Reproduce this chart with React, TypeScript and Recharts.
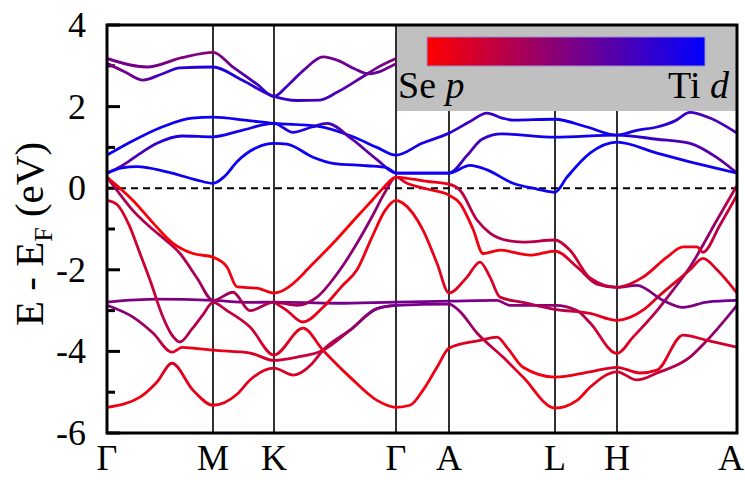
import React from "react";
import { LineChart, Line, XAxis, YAxis, ReferenceLine } from "recharts";

const W = 745;
const H = 480;
const PL = 107;
const PR = 737;
const PT = 25;
const PB = 433;
const KMAX = 630;
const SERIF = "Liberation Serif, Times New Roman, serif";
const serif = { fontFamily: SERIF };

const kTicks = [0, 106, 167, 289, 342, 448, 510, 630];
const kLabels = ["Γ", "M", "K", "Γ", "A", "L", "H", "A"];
const eTicks = [-6, -4, -2, 0, 2, 4];
const eMinor = [-5, -3, -1, 1, 3];

type Pt = [number, number, number]; // [k, E (eV), Ti d weight]

// upper conduction bands
const c1: Pt[] = [[0, 3.18, 0.55], [40, 2.97, 0.55], [75, 3.2, 0.5], [106, 3.33, 0.45], [126, 2.97, 0.6], [150, 2.55, 0.75], [167, 2.25, 0.8], [180, 2.5, 0.75], [197, 2.9, 0.65], [216, 3.22, 0.55], [232, 3.12, 0.55], [248, 2.92, 0.6], [262, 2.8, 0.6], [272, 2.85, 0.6], [281, 2.95, 0.55], [289, 3.05, 0.5]];
const c2: Pt[] = [[0, 3.06, 0.5], [18, 2.85, 0.55], [36, 2.65, 0.6], [55, 2.8, 0.75], [73, 2.95, 0.85], [106, 2.97, 0.88], [135, 2.65, 0.85], [167, 2.25, 0.8], [190, 2.15, 0.8], [213, 2.16, 0.75], [230, 2.35, 0.7], [255, 2.72, 0.62], [272, 2.98, 0.55], [289, 3.18, 0.5]];

// Ti d conduction bands
const b1: Pt[] = [[0, 0.81, 0.95], [25, 1.15, 0.95], [55, 1.5, 0.95], [85, 1.72, 0.95], [106, 1.74, 0.95], [140, 1.66, 0.95], [167, 1.59, 0.95], [210, 1.52, 0.95], [246, 1.26, 0.95], [270, 1.0, 0.95], [289, 0.81, 0.95], [315, 1.1, 0.9], [342, 1.35, 0.85], [362, 1.62, 0.75], [380, 1.84, 0.75], [395, 1.72, 0.85], [406, 1.67, 0.9], [448, 1.69, 0.95], [480, 1.5, 0.95], [510, 1.3, 0.95], [530, 1.42, 0.9], [550, 1.5, 0.85], [568, 1.65, 0.8], [583, 1.86, 0.75], [603, 1.72, 0.7], [630, 1.35, 0.7]];
const b2: Pt[] = [[0, 0.37, 0.55], [15, 0.55, 0.6], [30, 0.8, 0.7], [50, 1.1, 0.8], [75, 1.28, 0.9], [106, 1.26, 0.92], [135, 1.42, 0.92], [167, 1.59, 0.92], [186, 1.37, 0.9], [205, 1.5, 0.85], [220, 1.59, 0.75], [245, 1.2, 0.65], [270, 0.7, 0.6], [289, 0.37, 0.85], [320, 0.37, 0.92], [342, 0.37, 0.9], [360, 0.8, 0.7], [375, 1.2, 0.75], [395, 1.33, 0.9], [448, 1.25, 0.95], [510, 1.3, 0.92], [550, 1.2, 0.75], [583, 1.1, 0.7], [610, 0.75, 0.65], [630, 0.37, 0.6]];
const b3: Pt[] = [[0, 0.37, 0.95], [15, 0.5, 0.95], [30, 0.53, 0.95], [60, 0.4, 0.95], [90, 0.2, 0.95], [106, 0.12, 0.95], [118, 0.3, 0.95], [130, 0.65, 0.95], [150, 1.0, 0.95], [167, 1.1, 0.95], [180, 1.08, 0.95], [206, 0.76, 0.95], [226, 0.61, 0.95], [260, 0.55, 0.95], [280, 0.5, 0.95], [289, 0.37, 0.95], [320, 0.37, 0.95], [342, 0.37, 0.95], [363, 0.56, 0.95], [380, 0.45, 0.95], [406, 0.12, 0.95], [430, -0.02, 0.95], [448, -0.1, 0.95], [460, 0.27, 0.95], [483, 0.86, 0.95], [510, 1.13, 0.95], [550, 0.86, 0.95], [590, 0.6, 0.95], [630, 0.37, 0.95]];

// Se p valence bands
const v1: Pt[] = [[0, 0.27, 0.05], [13, 0, 0.03], [26, -0.3, 0.02], [46, -0.85, 0.02], [66, -1.35, 0.02], [86, -1.6, 0.02], [106, -1.69, 0.02], [120, -1.93, 0.05], [130, -2.42, 0.08], [150, -2.45, 0.08], [167, -2.57, 0.05], [193, -2.18, 0.05], [200, -2.0, 0.04], [226, -1.35, 0.03], [250, -0.7, 0.02], [265, -0.3, 0.02], [276, 0, 0.02], [289, 0.27, 0.05], [300, 0.24, 0.05], [320, 0.17, 0.08], [342, 0.1, 0.1], [353, -0.05, 0.25], [370, -0.78, 0.3], [383, -1.1, 0.3], [400, -1.28, 0.3], [416, -1.32, 0.3], [448, -1.27, 0.25], [463, -1.52, 0.2], [483, -2.2, 0.2], [510, -2.43, 0.25], [536, -2.18, 0.1], [560, -1.69, 0.05], [576, -1.44, 0.05], [590, -1.44, 0.08], [596, -1.57, 0.2], [613, -0.9, 0.3], [630, -0.17, 0.15]];
const v2: Pt[] = [[0, 0.27, 0.35], [13, -0.15, 0.35], [26, -0.55, 0.3], [43, -0.95, 0.3], [60, -1.3, 0.3], [73, -1.6, 0.3], [90, -2.2, 0.35], [106, -2.75, 0.4], [126, -2.55, 0.35], [143, -3.0, 0.3], [167, -2.79, 0.35], [190, -2.87, 0.35], [210, -2.67, 0.4], [233, -2.0, 0.45], [250, -1.35, 0.45], [265, -0.7, 0.45], [278, -0.1, 0.4], [289, 0.27, 0.3], [300, 0.12, 0.1], [320, -0.02, 0.08], [342, -0.17, 0.05], [353, -0.37, 0.05], [366, -1.0, 0.05], [376, -1.6, 0.05], [393, -1.52, 0.05], [423, -1.64, 0.05], [448, -1.54, 0.05], [470, -1.93, 0.2], [490, -2.35, 0.35], [510, -2.43, 0.45], [530, -2.38, 0.5], [556, -2.75, 0.5], [576, -2.92, 0.5], [600, -2.79, 0.55], [630, -2.75, 0.55]];
const v3: Pt[] = [[0, -0.3, 0.15], [10, -0.4, 0.15], [22, -0.9, 0.15], [33, -1.6, 0.2], [43, -2.25, 0.2], [55, -3.1, 0.25], [65, -3.6, 0.3], [73, -3.77, 0.3], [85, -3.45, 0.3], [96, -3.1, 0.3], [106, -2.8, 0.3], [120, -3.0, 0.25], [143, -3.4, 0.2], [167, -4.09, 0.15], [196, -3.43, 0.1], [216, -3.97, 0.1], [243, -4.63, 0.05], [270, -5.2, 0.05], [289, -5.37, 0.05], [303, -5.32, 0.05], [316, -4.95, 0.05], [330, -4.39, 0.08], [342, -3.92, 0.1], [373, -3.73, 0.15], [390, -3.65, 0.15], [400, -3.9, 0.1], [416, -4.39, 0.05], [448, -4.63, 0.05], [483, -4.5, 0.1], [510, -4.39, 0.15], [533, -4.53, 0.1], [550, -4.46, 0.1], [576, -3.6, 0.15], [600, -3.73, 0.15], [630, -3.9, 0.2]];
const v3b: Pt[] = [[167, -2.79, 0.2], [180, -3.0, 0.15], [196, -3.28, 0.1], [216, -2.92, 0.1], [235, -2.4, 0.1], [250, -2.0, 0.08], [265, -1.2, 0.06], [278, -0.55, 0.05], [289, -0.3, 0.05], [296, -0.37, 0.05], [316, -1.03, 0.08], [330, -1.84, 0.1], [342, -2.57, 0.12], [360, -2.18, 0.12], [373, -1.81, 0.12], [383, -2.18, 0.15], [393, -2.67, 0.2], [416, -2.8, 0.3], [448, -2.97, 0.3], [483, -3.07, 0.15], [510, -3.24, 0.08], [536, -2.99, 0.1], [553, -2.62, 0.12], [583, -2.0, 0.15], [596, -1.72, 0.15], [610, -2.0, 0.12], [630, -2.57, 0.1]];
const v4: Pt[] = [[0, -2.87, 0.5], [26, -3.16, 0.45], [46, -3.55, 0.35], [65, -4.02, 0.15], [75, -3.9, 0.08], [90, -3.93, 0.05], [106, -3.97, 0.08], [143, -4.04, 0.15], [167, -4.22, 0.2], [190, -4.14, 0.2], [216, -3.97, 0.25], [243, -3.48, 0.4], [270, -2.95, 0.5], [289, -2.87, 0.55], [342, -2.84, 0.5], [352, -3.0, 0.45], [370, -3.55, 0.35], [396, -4.14, 0.2], [416, -4.63, 0.1], [448, -5.39, 0.05], [470, -5.2, 0.05], [483, -4.88, 0.1], [510, -4.5, 0.15], [530, -4.7, 0.2], [550, -4.53, 0.25], [583, -4.14, 0.35], [600, -3.73, 0.4], [630, -2.87, 0.5]];
const v5: Pt[] = [[0, -5.37, 0.08], [33, -5.12, 0.08], [50, -4.75, 0.1], [65, -4.29, 0.15], [86, -4.95, 0.1], [106, -5.32, 0.08], [130, -5.05, 0.1], [143, -4.7, 0.12], [167, -4.41, 0.15], [186, -4.58, 0.15], [205, -4.3, 0.2], [216, -3.97, 0.25], [243, -3.48, 0.4], [270, -2.95, 0.5], [289, -2.87, 0.55]];
const flat: Pt[] = [[0, -2.79, 0.5], [50, -2.72, 0.5], [106, -2.75, 0.5], [143, -2.8, 0.5], [167, -2.79, 0.5], [230, -2.82, 0.55], [289, -2.79, 0.55], [342, -2.77, 0.55], [390, -2.75, 0.5], [403, -2.87, 0.45], [448, -2.87, 0.45], [470, -3.0, 0.35], [483, -3.3, 0.25], [510, -4.05, 0.1], [526, -3.65, 0.15], [550, -3.0, 0.3], [566, -2.5, 0.4], [583, -1.93, 0.45], [610, -0.78, 0.4], [630, 0.07, 0.2]];

const bands: Pt[][] = [c1, c2, b1, b2, b3, flat, v4, v5, v3, v3b, v2, v1];

const rgb = (w: number) =>
  `rgb(${Math.round(255 * (1 - w))},0,${Math.round(255 * w)})`;

function KTick(props: any) {
  const { x, payload } = props;
  const i = kTicks.indexOf(payload.value);
  const tx = Math.min(x, W - 14);
  return (
    <text x={tx} y={470} textAnchor="middle" style={serif} fontSize={36} fill="#000">
      {kLabels[i]}
    </text>
  );
}

function ETick(props: any) {
  const { y, payload } = props;
  return (
    <text x={86} y={y + 12} textAnchor="end" style={serif} fontSize={36} fill="#000">
      {payload.value}
    </text>
  );
}

export default function App() {
  return (
    <div style={{ position: "absolute", left: 0, top: 0, width: W, height: H, background: "#fff" }}>
      <LineChart width={W} height={H} margin={{ top: PT, right: W - PR, bottom: 0, left: 0 }}>
        <defs>
          {bands.map((b, i) => (
            <linearGradient key={i} id={`band${i}`} gradientUnits="userSpaceOnUse" x1={PL} x2={PR} y1={0} y2={0}>
              {b.map(([k, , w], j) => (
                <stop key={j} offset={k / KMAX} stopColor={rgb(w)} />
              ))}
            </linearGradient>
          ))}
        </defs>
        <XAxis
          type="number"
          dataKey="k"
          domain={[0, KMAX]}
          ticks={kTicks}
          interval={0}
          height={H - PB}
          axisLine={false}
          tickLine={false}
          tick={<KTick />}
          allowDataOverflow
        />
        <YAxis
          type="number"
          domain={[-6, 4]}
          ticks={eTicks}
          interval={0}
          width={PL}
          axisLine={false}
          tickLine={false}
          tick={<ETick />}
          allowDataOverflow
        />
        {kTicks.slice(1, -1).map((k) => (
          <ReferenceLine key={k} x={k} stroke="#1a1a1a" strokeWidth={1.8} />
        ))}
        <ReferenceLine y={0} stroke="#000" strokeWidth={2} strokeDasharray="7 5" />
        {eTicks.map((e) => (
          <ReferenceLine key={`M${e}`} segment={[{ x: 0, y: e }, { x: 13, y: e }]} stroke="#000" strokeWidth={3} />
        ))}
        {eMinor.map((e) => (
          <ReferenceLine key={`m${e}`} segment={[{ x: 0, y: e }, { x: 8, y: e }]} stroke="#000" strokeWidth={3} />
        ))}
        {bands.map((b, i) => (
          <Line
            key={i}
            data={b.map(([k, e]) => ({ k, e }))}
            dataKey="e"
            type="monotone"
            stroke={`url(#band${i})`}
            strokeWidth={2.8}
            dot={false}
            activeDot={false}
            isAnimationActive={false}
          />
        ))}
      </LineChart>
      <svg width={W} height={H} style={{ position: "absolute", left: 0, top: 0, pointerEvents: "none" }}>
        <defs>
          <linearGradient id="legendGrad" x1="0" x2="1" y1="0" y2="0">
            <stop offset="0" stopColor={rgb(0)} />
            <stop offset="0.5" stopColor={rgb(0.5)} />
            <stop offset="1" stopColor={rgb(1)} />
          </linearGradient>
        </defs>
        <rect x={397} y={PT} width={PR - 397} height={86} fill="#c0c0c0" />
        <rect x={427} y={37} width={278} height={29} fill="url(#legendGrad)" stroke="#9a8ccf" strokeWidth={1} />
        <text x={398} y={98} style={serif} fontSize={38} fill="#000">
          Se <tspan fontStyle="italic">p</tspan>
        </text>
        <text x={729} y={98} textAnchor="end" style={serif} fontSize={38} fill="#000">
          Ti <tspan fontStyle="italic">d</tspan>
        </text>
        <rect x={PL} y={PT} width={PR - PL} height={PB - PT} fill="none" stroke="#000" strokeWidth={3} />
        <text
          transform="translate(43,234) rotate(-90)"
          textAnchor="middle"
          style={serif}
          fontSize={41}
          fill="#000"
        >
          E - E<tspan fontSize={26} dy={9}>F</tspan>
          <tspan dy={-9}> (eV)</tspan>
        </text>
      </svg>
    </div>
  );
}
